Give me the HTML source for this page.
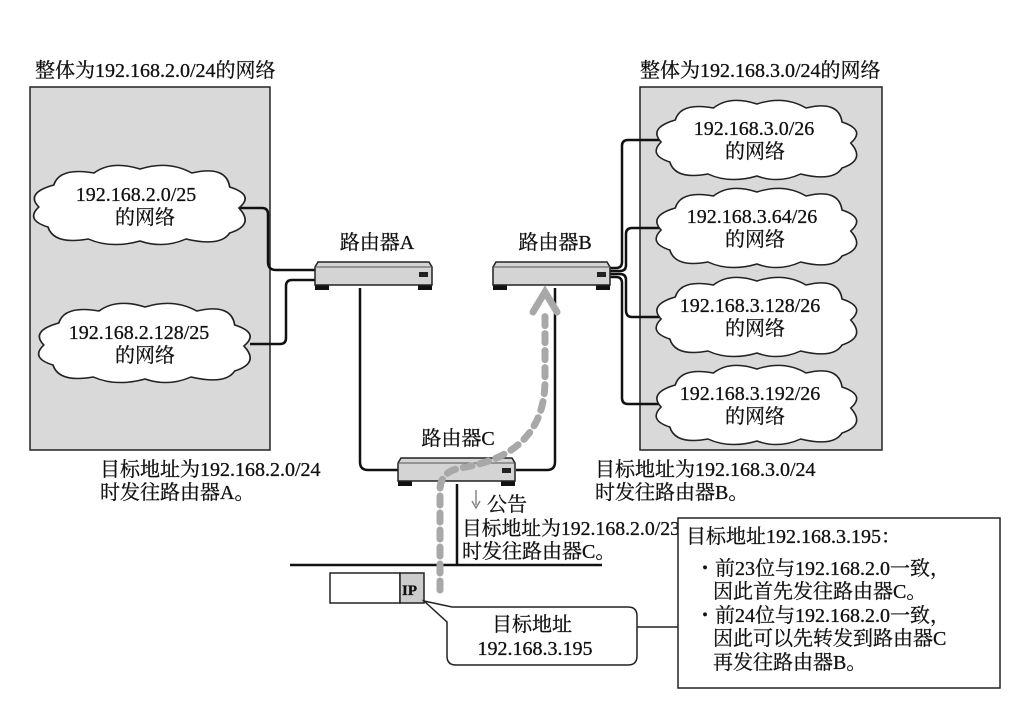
<!DOCTYPE html>
<html><head><meta charset="utf-8"><style>
html,body{margin:0;padding:0;background:#fff}
svg text{font-family:"Liberation Serif","Noto Serif CJK SC","Noto Sans CJK SC",serif;font-size:20px;fill:#111;stroke:#111;stroke-width:0.3}
</style></head><body>
<svg width="1009" height="699" viewBox="0 0 1009 699" xmlns="http://www.w3.org/2000/svg">
<defs>
<path id="cl" d="M -75,-20 Q -70,-38 -40,-32 Q -25,-45 0,-36 Q 25,-45 45,-32 Q 75,-40 78,-18 Q 100,-10 86,3 Q 100,20 78,28 Q 70,42 40,34 Q 20,44 0,36 Q -25,44 -45,34 Q -75,40 -80,22 Q -100,15 -88,2 Q -100,-12 -75,-20 Z" fill="#fff" stroke="#222" stroke-width="1.5"/>
<g id="rt">
<rect x="0" y="22" width="14" height="6" fill="#111"/>
<rect x="103" y="22" width="14" height="6" fill="#111"/>
<path d="M3,0 L114,0 L117,5 L117,23 L0,23 L0,5 Z" fill="#d4d4d4" stroke="#222" stroke-width="1.5"/>
<line x1="0" y1="5" x2="117" y2="5" stroke="#555" stroke-width="1"/>
<rect x="104" y="10" width="9" height="5" fill="#222"/>
</g>
</defs>
<text x="35" y="77">整体为192.168.2.0/24的网络</text>
<text x="640" y="77">整体为192.168.3.0/24的网络</text>
<rect x="30" y="87" width="240" height="363" fill="#d9d9d9" stroke="#222" stroke-width="1.5"/>
<rect x="640" y="87" width="242" height="363" fill="#d9d9d9" stroke="#222" stroke-width="1.5"/>
<g fill="none" stroke="#111" stroke-width="2.5">
<path d="M240,208 L262,208 Q268,208 268,214 L268,262 Q268,270 276,270 L316,270"/>
<path d="M316,280 L292,280 Q286,280 286,286 L286,338 Q286,344 280,344 L250,344"/>
<path d="M360,288 L360,462 Q360,470 368,470 L398,470"/>
<path d="M555,288 L555,462 Q555,470 547,470 L516,470"/>
<path d="M610,268 L616,268 Q622,268 622,262 L622,146 Q622,140 628,140 L660,140"/>
<path d="M610,271 L620,271 Q626,271 626,265 L626,234 Q626,228 632,228 L660,228"/>
<path d="M610,274 L620,274 Q626,274 626,280 L626,310 Q626,317 632,317 L660,317"/>
<path d="M610,277 L616,277 Q622,277 622,283 L622,398 Q622,404 628,404 L660,404"/>
<path d="M457,484 L457,565"/>
<path d="M290,565 L602,565"/>
</g>
<use href="#cl" transform="translate(140,205) scale(1.15,1.0)"/>
<use href="#cl" transform="translate(145,343) scale(1.15,1.0)"/>
<use href="#cl" transform="translate(757,140) scale(1.09,1.0)"/>
<use href="#cl" transform="translate(757,228) scale(1.09,1.0)"/>
<use href="#cl" transform="translate(757,317) scale(1.09,1.0)"/>
<use href="#cl" transform="translate(757,405) scale(1.09,1.0)"/>
<g text-anchor="middle">
<text x="136" y="201">192.168.2.0/25</text><text x="145" y="224">的网络</text>
<text x="139" y="339">192.168.2.128/25</text><text x="145" y="362">的网络</text>
<text x="754" y="135">192.168.3.0/26</text><text x="755" y="158">的网络</text>
<text x="752" y="223">192.168.3.64/26</text><text x="755" y="246">的网络</text>
<text x="750" y="312">192.168.3.128/26</text><text x="755" y="335">的网络</text>
<text x="750" y="400">192.168.3.192/26</text><text x="755" y="423">的网络</text>
<text x="377" y="249">路由器A</text>
<text x="555" y="249">路由器B</text>
<text x="458" y="445">路由器C</text>
</g>
<use href="#rt" x="315" y="262"/>
<use href="#rt" x="493" y="262"/>
<use href="#rt" x="398" y="458"/>
<path d="M440,590 L440,490 Q440,472 460,468 Q545,455 545,380 L545,310" fill="none" stroke="#a8a8a8" stroke-width="7" stroke-dasharray="9,8" stroke-linecap="round"/>
<path d="M533,312 L545,292 L557,312" fill="none" stroke="#a8a8a8" stroke-width="7" stroke-linecap="round"/>
<path d="M476,490 L476,505" stroke="#888" stroke-width="1.5"/>
<path d="M472,501 L476,508 L480,501" fill="none" stroke="#888" stroke-width="1.5"/>
<text x="100" y="476">目标地址为192.168.2.0/24</text>
<text x="100" y="499">时发往路由器A。</text>
<text x="595" y="476">目标地址为192.168.3.0/24</text>
<text x="595" y="499">时发往路由器B。</text>
<text x="487" y="511">公告</text>
<text x="462" y="535" textLength="218" lengthAdjust="spacingAndGlyphs">目标地址为192.168.2.0/23</text>
<text x="462" y="558">时发往路由器C。</text>
<rect x="330" y="573" width="70" height="30" fill="#fff" stroke="#222" stroke-width="1.5"/>
<rect x="400" y="573" width="24" height="30" fill="#ccc" stroke="#222" stroke-width="1.5"/>
<text x="402" y="595" style="font-weight:bold;font-size:15px">IP</text>
<line x1="637" y1="627" x2="678" y2="627" stroke="#222" stroke-width="1.5"/>
<path d="M424,601 L452,607 L628,607 Q637,607 637,616 L637,656 Q637,665 628,665 L456,665 Q447,665 447,656 L447,622 Z" fill="#fff" stroke="#222" stroke-width="1.5"/>
<text x="532" y="631" text-anchor="middle">目标地址</text>
<text x="535" y="655" text-anchor="middle">192.168.3.195</text>
<rect x="678" y="518" width="322" height="170" fill="#fff" stroke="#222" stroke-width="1.5"/>
<text x="686" y="543">目标地址192.168.3.195：</text>
<text x="695" y="575">・前23位与192.168.2.0一致，</text>
<text x="713" y="598">因此首先发往路由器C。</text>
<text x="695" y="622">・前24位与192.168.2.0一致，</text>
<text x="713" y="645">因此可以先转发到路由器C</text>
<text x="713" y="669">再发往路由器B。</text>
</svg>
</body></html>
